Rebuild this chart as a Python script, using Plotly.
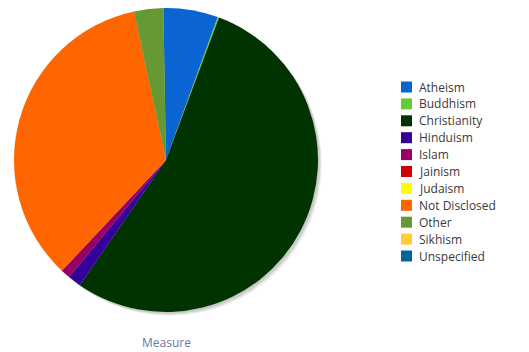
import plotly.graph_objects as go

labels = ["Atheism", "Buddhism", "Christianity", "Hinduism", "Islam", "Jainism",
          "Judaism", "Not Disclosed", "Other", "Sikhism", "Unspecified"]
values = [5.8, 0.15, 53.9, 1.4, 1.0, 0, 0, 34.6, 3.1, 0, 0]
colors = ["#0a64d2", "#66cc33", "#003300", "#330099", "#990066", "#cc0000",
          "#ffff00", "#ff6600", "#669933", "#ffcc33", "#006699"]
axis_title = "Measure"

W, H = 529, 352
cx, cy, r = 166, 160, 152

fig = go.Figure(go.Pie(
    labels=labels, values=values, sort=False, direction="clockwise", rotation=-1,
    marker=dict(colors=colors, line=dict(width=0)),
    textinfo="none", hoverinfo="label+value", showlegend=False,
    domain=dict(x=[(cx - r) / W, (cx + r) / W], y=[1 - (cy + r) / H, 1 - (cy - r) / H]),
))

def px(x):
    return x / W

def py(y):
    return 1 - y / H

shapes = []
# soft shadow behind the pie
for off, a in [(4, 0.05), (3, 0.07), (2, 0.09)]:
    shapes.append(dict(type="circle", xref="paper", yref="paper", layer="below",
                       x0=px(cx - r + off), x1=px(cx + r + off),
                       y0=py(cy + r + off), y1=py(cy - r + off),
                       fillcolor=f"rgba(0,0,0,{a})", line=dict(width=0)))

annotations = []
y0, step = 87, 16.9
for i, (lab, col) in enumerate(zip(labels, colors)):
    yc = y0 + step * i
    shapes.append(dict(type="rect", xref="paper", yref="paper",
                       x0=px(401), x1=px(412), y0=py(yc + 5.5), y1=py(yc - 5.5),
                       fillcolor=col, line=dict(width=0)))
    annotations.append(dict(text=lab, x=px(417), y=py(yc), xref="paper", yref="paper",
                            xanchor="left", yanchor="middle", showarrow=False,
                            font=dict(size=12, color="#3a3a3a")))

annotations.append(dict(text=axis_title, x=px(166), y=py(342), xref="paper", yref="paper",
                        xanchor="center", yanchor="middle", showarrow=False,
                        font=dict(size=12, color="#6a7a9a")))

fig.update_layout(
    width=W, height=H, margin=dict(l=0, r=0, t=0, b=0),
    paper_bgcolor="white", plot_bgcolor="white",
    font=dict(family="Open Sans, DejaVu Sans, sans-serif", size=12, color="#444"),
    shapes=shapes, annotations=annotations,
)
fig.write_html("out.html")
